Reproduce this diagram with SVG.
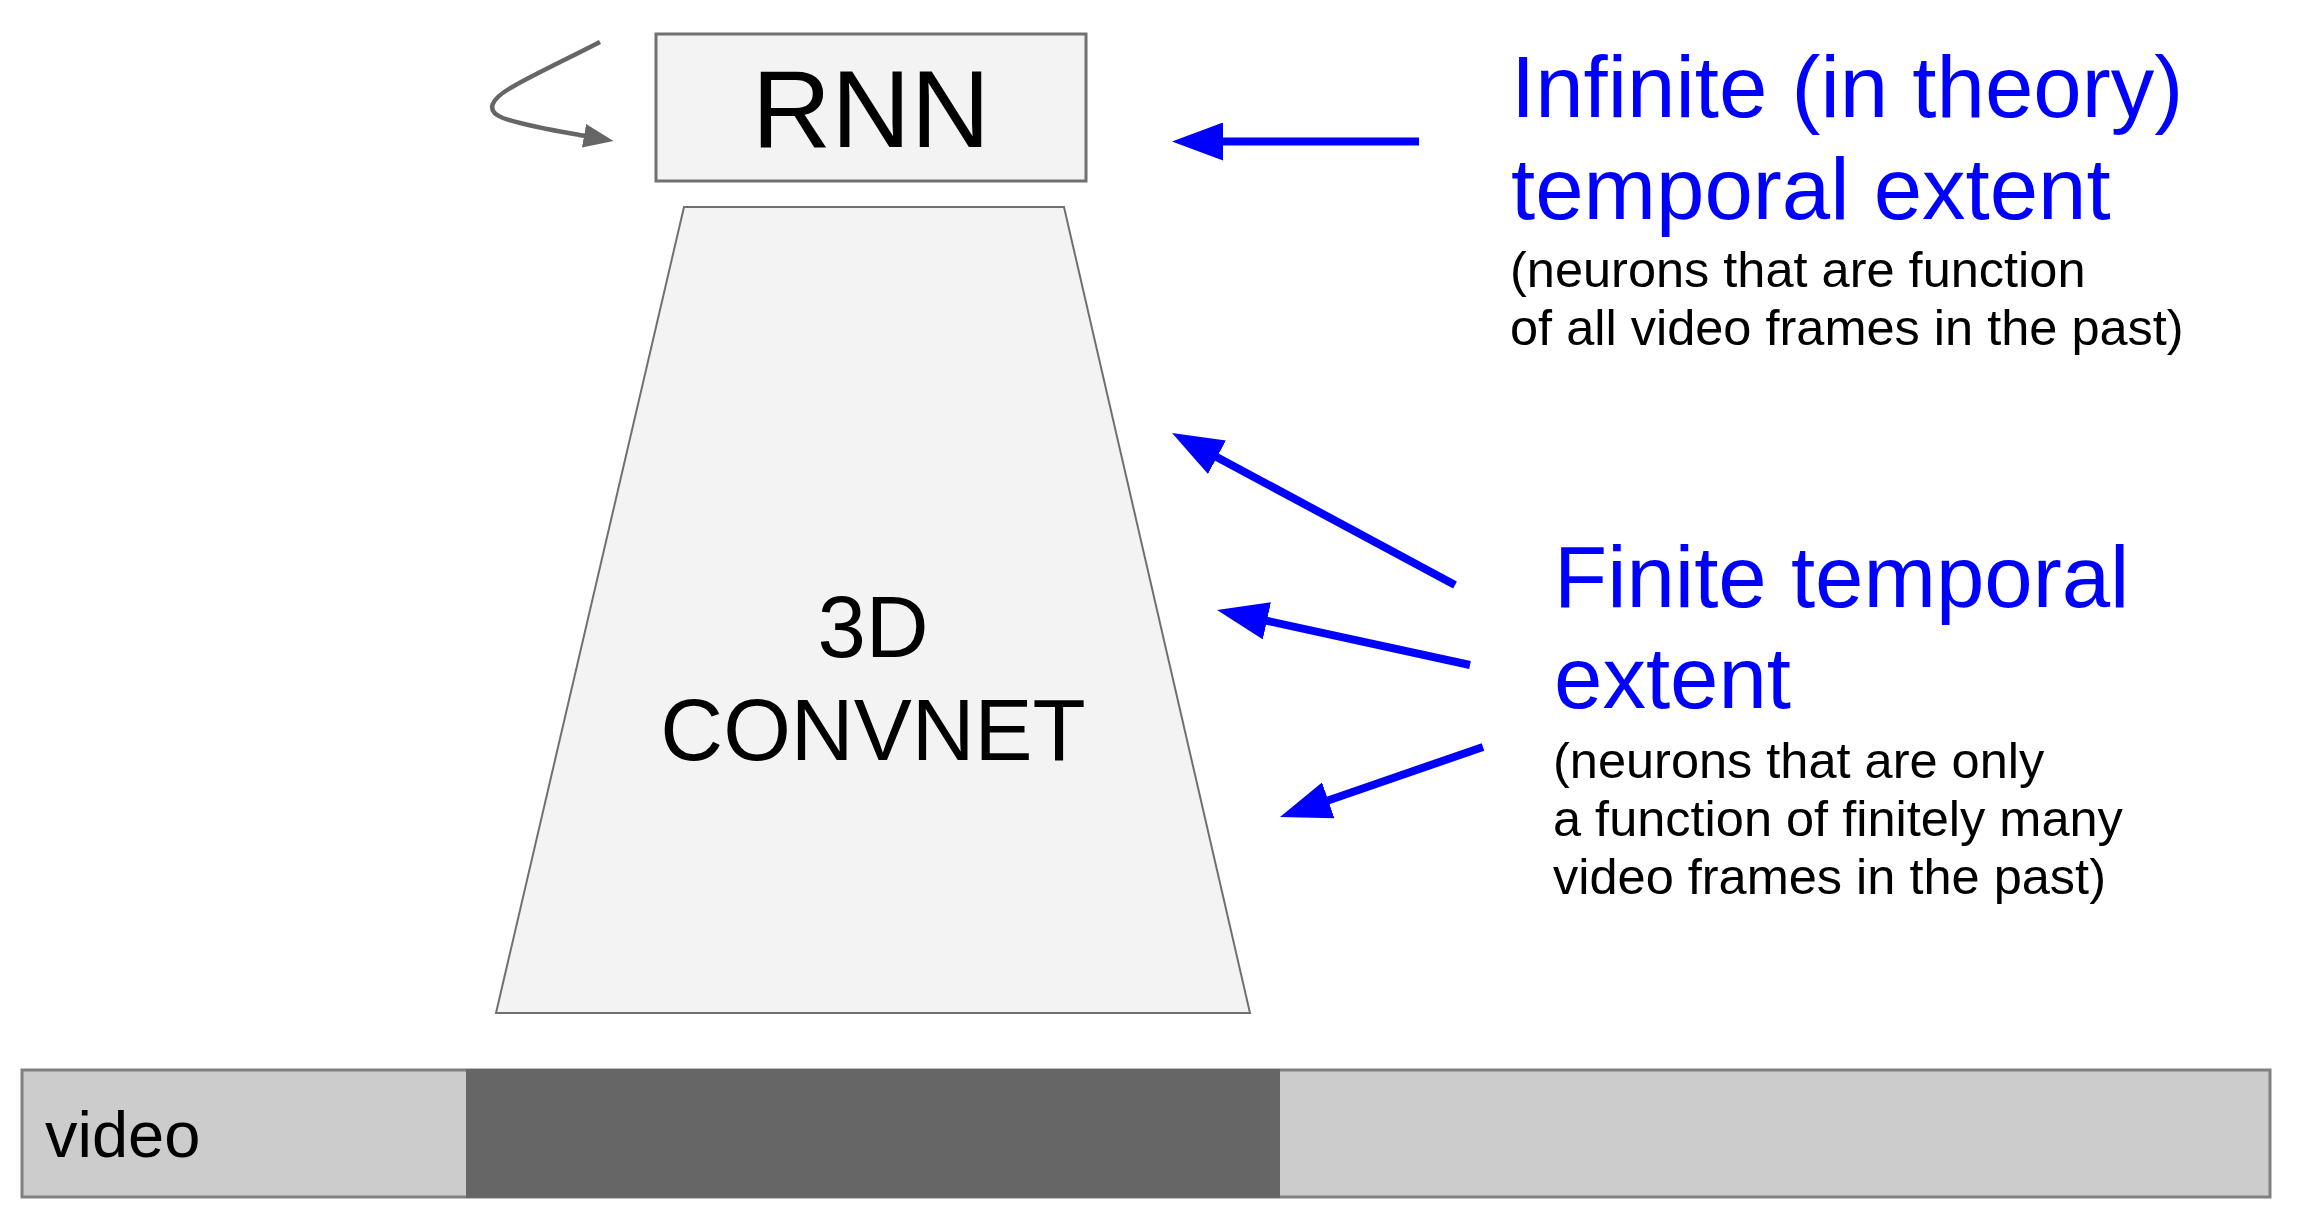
<svg xmlns="http://www.w3.org/2000/svg" width="2301" height="1215" viewBox="0 0 2301 1215">
<style>
  text { font-family: "Liberation Sans", Arial, sans-serif; }
  .node { fill: #f3f3f3; stroke: #707070; }
  .lbl { fill: #000000; text-anchor: middle; }
  .head { fill: #0000ff; font-size: 87px; }
  .sub { fill: #000000; font-size: 50.5px; }
  .blue { stroke: #0000ff; stroke-width: 8; fill: none; marker-end: url(#bluehead); }
</style>
<defs>
  <marker id="bluehead" markerUnits="userSpaceOnUse" markerWidth="52" markerHeight="38" refX="1" refY="19" orient="auto">
    <path d="M0,0 L51,19 L0,38 Z" fill="#0000ff"/>
  </marker>
  <marker id="grayhead" markerUnits="userSpaceOnUse" markerWidth="31" markerHeight="24" refX="1" refY="12" orient="auto">
    <path d="M0,0 L30,12 L0,24 Z" fill="#666666"/>
  </marker>
</defs>
<rect width="2301" height="1215" fill="#ffffff"/>

<g id="video">
  <rect x="22" y="1070" width="2248" height="127" fill="#cccccc" stroke="#808080" stroke-width="3"/>
  <rect x="466" y="1069" width="814" height="129" fill="#666666"/>
  <text x="45" y="1157" font-size="65" fill="#000000">video</text>
</g>

<g id="convnet">
  <polygon class="node" points="684,207 1064,207 1250,1013 496,1013" stroke="#666666" stroke-width="2"/>
  <text class="lbl" x="873" y="657" font-size="87">3D</text>
  <text class="lbl" x="873" y="760" font-size="87">CONVNET</text>
</g>

<g id="rnn">
  <rect class="node" x="656" y="34" width="430" height="147" stroke-width="3"/>
  <text class="lbl" x="871" y="147" font-size="110">RNN</text>
</g>

<g id="infinite-label">
  <text class="head" x="1511" y="117">Infinite (in theory)</text>
  <text class="head" x="1511" y="219">temporal extent</text>
  <text class="sub" x="1510" y="287">(neurons that are function</text>
  <text class="sub" x="1510" y="345">of all video frames in the past)</text>
</g>

<g id="finite-label">
  <text class="head" x="1554" y="607">Finite temporal</text>
  <text class="head" x="1554" y="708">extent</text>
  <text class="sub" x="1553" y="778">(neurons that are only</text>
  <text class="sub" x="1553" y="836">a function of finitely many</text>
  <text class="sub" x="1553" y="894">video frames in the past)</text>
</g>

<g id="connectors">
  <path d="M600,42 C565,60 535,74 514,86 C490,99 485,111 503,118 C525,126 557,131 585,136" fill="none" stroke="#666666" stroke-width="4.5" marker-end="url(#grayhead)"/>
  <line class="blue" x1="1419" y1="141.5" x2="1222" y2="141.5"/>
  <line class="blue" x1="1455" y1="585" x2="1216.1" y2="456.7"/>
  <line class="blue" x1="1470" y1="665" x2="1265.9" y2="620.6"/>
  <line class="blue" x1="1483" y1="747" x2="1327.3" y2="800.7"/>
</g>
</svg>
